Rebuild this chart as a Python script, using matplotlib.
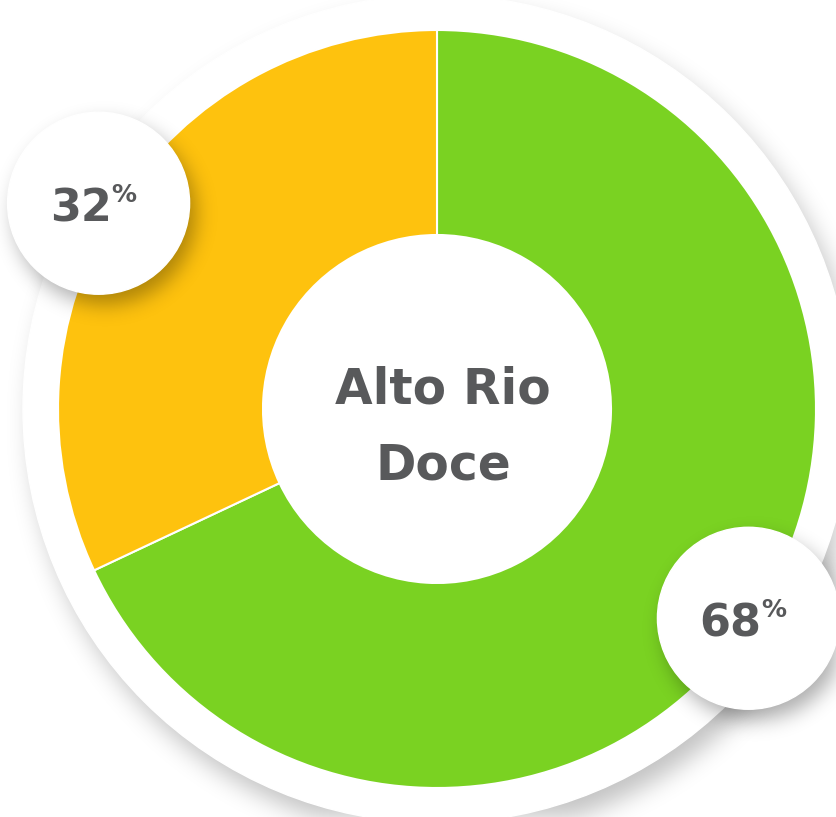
import numpy as np
import matplotlib
matplotlib.use("Agg")
import matplotlib.pyplot as plt
from matplotlib.patches import Circle

# ---------- DATA ----------
region_lines = ["Alto Rio", "Doce"]
shares = [68, 32]
share_labels = ["68", "32"]
colors = ["#7ad222", "#fec20e"]

# ---------- LAYOUT (pixels, y pointing up) ----------
W, H = 836, 817
cx, cy = 437, 408
R_OUT, R_IN = 379, 174
R_BACK = 414          # white disc behind the ring
BADGE_R = 91          # white label badges
badge_dist = [0.99, 1.045]
badge_turn = [-1.5, 1.1]   # small nudge (deg) off the wedge middle
TEXT_COLOR = "#58595b"
FONT = ["DejaVu Sans"]


def blur(img, sigma):
    k = int(sigma * 3)
    x = np.arange(-k, k + 1)
    g = np.exp(-x**2 / (2 * sigma**2))
    g /= g.sum()
    img = np.apply_along_axis(lambda r: np.convolve(r, g, mode="same"), 1, img)
    img = np.apply_along_axis(lambda c: np.convolve(c, g, mode="same"), 0, img)
    return img


def shadow_layer(discs, sigma, alpha):
    # discs: (x, y, r) in y-up pixel coords; returns RGBA image rows top->bottom
    yy, xx = np.mgrid[0:H, 0:W]
    yy = H - yy
    mask = np.zeros((H, W))
    for x, y, r in discs:
        mask = np.maximum(mask, ((xx - x)**2 + (yy - y)**2 <= r**2).astype(float))
    a = blur(mask, sigma) * alpha
    rgba = np.zeros((H, W, 4))
    rgba[..., 3] = a
    return rgba


fig = plt.figure(figsize=(W / 100, H / 100), dpi=100)
ax = fig.add_axes([0, 0, 1, 1])

# soft shadow + white disc behind the donut
ax.imshow(shadow_layer([(cx + 8, cy - 14, R_BACK)], 12, 0.24),
          extent=(0, W, 0, H), origin="upper", zorder=0, interpolation="bilinear")
ax.add_patch(Circle((cx, cy), R_BACK, color="white", zorder=1))

wedges, _ = ax.pie(shares, colors=colors, startangle=90, counterclock=False,
                   radius=R_OUT, center=(cx, cy),
                   wedgeprops=dict(width=R_OUT - R_IN, edgecolor="white", linewidth=1.5))
for w in wedges:
    w.set_zorder(2)

# badge positions near the middle of each wedge
badges = []
for w, d, t in zip(wedges, badge_dist, badge_turn):
    mid = np.deg2rad((w.theta1 + w.theta2) / 2 + t)
    badges.append((cx + d * R_OUT * np.cos(mid), cy + d * R_OUT * np.sin(mid)))

ax.imshow(shadow_layer([(x + 6, y - 10, BADGE_R) for x, y in badges], 10, 0.32),
          extent=(0, W, 0, H), origin="upper", zorder=3, interpolation="bilinear")

for (x, y), lab in zip(badges, share_labels):
    ax.add_patch(Circle((x, y), BADGE_R, color="white", zorder=4))
    ax.text(x + 13, y - 18, lab, ha="right", va="baseline", fontsize=32,
            fontweight="bold", color=TEXT_COLOR, family=FONT, zorder=5)
    ax.text(x + 13, y + 20, "%", ha="left", va="top", fontsize=18,
            fontweight="bold", color=TEXT_COLOR, family=FONT, zorder=5)

for line, base in zip(region_lines, [H - 403, H - 479]):
    ax.text(cx + 6, base, line, ha="center", va="baseline", fontsize=35,
            fontweight="bold", color=TEXT_COLOR, family=FONT, zorder=5)

ax.set_xlim(0, W)
ax.set_ylim(0, H)
ax.set_aspect("equal")
ax.axis("off")

fig.savefig("out.png", dpi=100, facecolor="white")
